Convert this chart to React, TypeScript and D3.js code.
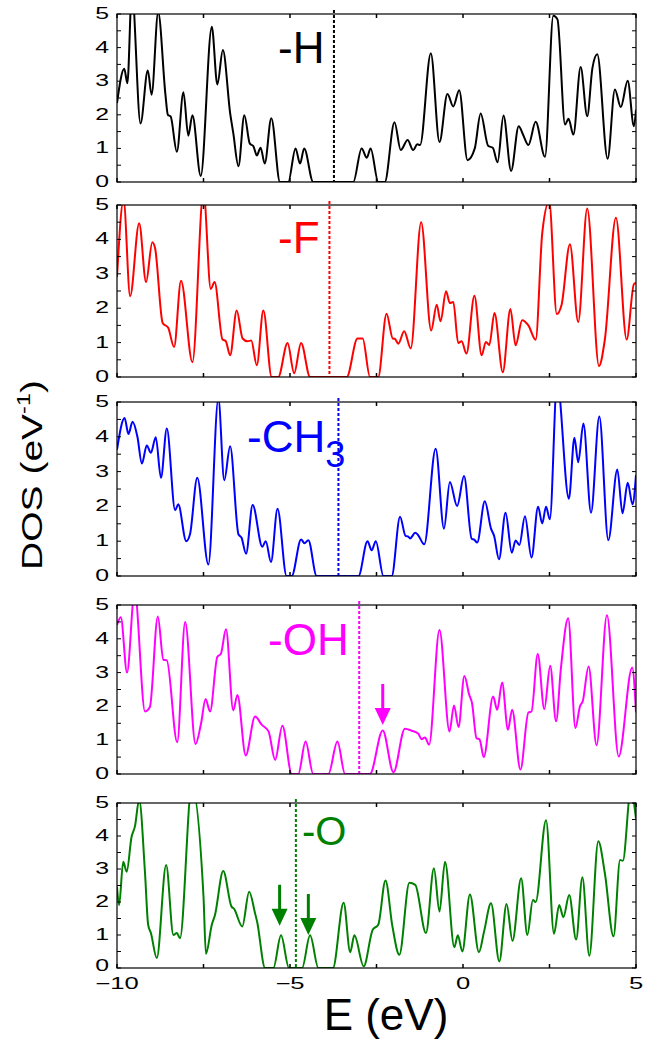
import React from 'react';
import * as d3 from 'd3';

type Pt = [number, number];

// DOS curves, read as peaks/valleys [E (eV), DOS]
const hData: Pt[] = [[-10.0,2.35],[-9.79,3.37],[-9.70,2.94],[-9.57,5.7],[-9.32,1.74],[-9.11,3.32],[-9.0,2.6],[-8.81,5.05],[-8.6,2.6],[-8.53,2.0],[-8.45,1.95],[-8.27,0.9],[-8.08,2.67],[-7.94,1.38],[-7.82,1.99],[-7.58,0.18],[-7.26,4.62],[-7.10,2.9],[-6.94,3.93],[-6.73,2.05],[-6.64,1.46],[-6.49,0.47],[-6.32,1.99],[-6.16,1.14],[-6.06,1.07],[-5.96,0.79],[-5.85,1.02],[-5.73,0.55],[-5.54,1.9],[-5.29,0],[-5.05,0],[-4.84,1.0],[-4.71,0.55],[-4.59,1.0],[-4.33,0],[-3.17,0],[-2.93,1.0],[-2.78,0.72],[-2.67,1.0],[-2.45,0],[-2.26,0],[-1.98,1.78],[-1.80,0.95],[-1.60,1.25],[-1.44,0.95],[-1.32,1.12],[-1.24,1.1],[-0.93,3.83],[-0.68,1.19],[-0.45,2.62],[-0.28,2.25],[-0.11,2.73],[0.13,0.65],[0.34,1.0],[0.51,2.04],[0.73,1.07],[0.86,1.02],[1.0,0.59],[1.17,1.98],[1.39,0.33],[1.61,1.66],[1.74,1.4],[1.89,1.1],[2.10,1.79],[2.37,0.75],[2.61,4.95],[2.73,4.84],[2.95,1.71],[3.05,1.88],[3.19,1.41],[3.40,3.42],[3.59,1.96],[3.74,3.39],[3.88,3.8],[4.18,0.69],[4.39,2.75],[4.56,2.23],[4.76,3.01],[4.94,1.66],[5.0,2.15]];

const fData: Pt[] = [[-10.0,2.9],[-9.81,5.15],[-9.62,2.35],[-9.36,4.47],[-9.16,2.76],[-8.98,3.92],[-8.9,3.75],[-8.68,1.57],[-8.52,1.43],[-8.35,0.87],[-8.15,2.8],[-7.82,0.43],[-7.5,5.4],[-7.29,2.56],[-7.18,2.76],[-6.95,1.09],[-6.86,1.05],[-6.73,0.63],[-6.54,1.93],[-6.37,1.12],[-6.23,1.04],[-6.12,1.06],[-5.96,0.34],[-5.77,1.93],[-5.53,0],[-5.34,0],[-5.07,0.99],[-4.88,0.11],[-4.68,0.99],[-4.42,0],[-3.36,0],[-3.05,1.12],[-2.9,1.12],[-2.69,0],[-2.45,0],[-2.21,1.84],[-2.03,1.12],[-1.97,1.11],[-1.87,0.97],[-1.70,1.33],[-1.51,0.83],[-1.21,4.5],[-0.92,1.35],[-0.76,2.1],[-0.65,1.62],[-0.49,2.49],[-0.38,2.15],[-0.28,2.18],[-0.14,0.99],[-0.04,1.04],[0.10,0.68],[0.33,2.36],[0.54,0.63],[0.66,1.02],[0.76,0.93],[0.91,1.86],[1.15,0.14],[1.37,1.98],[1.52,0.92],[1.71,1.65],[1.89,1.5],[2.10,1.08],[2.29,4.18],[2.49,5.1],[2.71,1.83],[2.85,2.1],[3.09,3.86],[3.33,1.6],[3.59,4.9],[3.93,0.32],[4.10,1.09],[4.42,4.63],[4.73,1.09],[4.94,2.7],[5.0,2.73]];

const ch3Data: Pt[] = [[-10.0,3.63],[-9.78,4.54],[-9.67,4.08],[-9.55,4.43],[-9.41,4.0],[-9.28,3.23],[-9.14,3.75],[-9.02,3.54],[-8.88,3.99],[-8.73,2.82],[-8.56,4.24],[-8.32,1.89],[-8.23,2.06],[-8.0,1.0],[-7.89,1.2],[-7.68,2.82],[-7.36,0.33],[-7.07,5.1],[-6.90,2.75],[-6.73,3.73],[-6.49,1.2],[-6.40,1.1],[-6.27,0.64],[-6.08,2.04],[-5.80,0.84],[-5.70,1.0],[-5.55,0.4],[-5.36,1.93],[-5.10,0],[-4.95,0],[-4.68,1.05],[-4.58,0.94],[-4.47,1.03],[-4.23,0],[-3.02,0],[-2.76,1.0],[-2.64,0.74],[-2.52,1.0],[-2.30,0],[-2.06,0],[-1.82,1.7],[-1.66,1.15],[-1.58,1.13],[-1.53,1.08],[-1.38,1.24],[-1.3,1.18],[-1.12,0.91],[-0.79,3.66],[-0.55,1.36],[-0.38,2.7],[-0.17,2.01],[0.03,2.87],[0.25,1.07],[0.33,1.04],[0.41,0.96],[0.63,2.15],[0.81,1.36],[0.9,1.15],[1.04,0.48],[1.23,1.82],[1.41,0.67],[1.52,1.02],[1.63,0.89],[1.79,1.72],[1.98,0.53],[2.17,1.99],[2.29,1.51],[2.40,1.99],[2.51,1.63],[2.72,5.6],[3.06,2.22],[3.22,3.97],[3.33,3.27],[3.48,4.38],[3.70,1.82],[3.94,4.58],[4.20,1.03],[4.46,3.06],[4.61,1.8],[4.76,2.68],[4.90,2.06],[5.0,2.9]];

const ohData: Pt[] = [[-10.0,4.41],[-9.89,4.64],[-9.71,3.0],[-9.49,5.4],[-9.19,1.85],[-9.05,1.98],[-8.82,4.66],[-8.66,3.38],[-8.56,3.36],[-8.26,0.94],[-8.03,4.5],[-7.73,0.89],[-7.57,1.5],[-7.44,2.22],[-7.31,1.85],[-7.10,3.47],[-7.0,3.55],[-6.85,4.28],[-6.64,1.88],[-6.52,2.34],[-6.28,0.55],[-6.01,1.7],[-5.82,1.46],[-5.62,1.26],[-5.43,0.42],[-5.22,1.43],[-4.95,0],[-4.76,0],[-4.55,0.96],[-4.33,0],[-3.89,0],[-3.63,0.96],[-3.41,0],[-2.69,0],[-2.32,1.29],[-2.01,0.05],[-1.68,1.34],[-1.48,1.28],[-1.29,1.19],[-1.20,1.03],[-1.10,1.08],[-0.98,0.87],[-0.68,4.26],[-0.39,1.26],[-0.26,2.03],[-0.13,1.39],[0.04,2.9],[0.18,2.34],[0.26,2.1],[0.39,1.06],[0.48,1.02],[0.60,0.5],[0.87,2.29],[0.99,1.9],[1.13,2.71],[1.30,1.31],[1.42,1.9],[1.66,0.13],[1.89,1.82],[1.98,1.85],[2.16,3.55],[2.35,1.92],[2.52,3.2],[2.69,1.56],[2.83,3.13],[3.04,4.61],[3.25,1.36],[3.38,2.0],[3.46,2.15],[3.63,3.18],[3.86,0.85],[4.16,4.7],[4.5,0.52],[4.89,3.15],[5.0,1.82]];

const oData: Pt[] = [[-10.0,2.46],[-9.94,1.91],[-9.82,3.22],[-9.72,2.92],[-9.58,3.97],[-9.48,4.3],[-9.36,5.1],[-9.19,2.87],[-9.1,1.31],[-9.02,1.06],[-8.85,0.3],[-8.58,3.12],[-8.37,1.0],[-8.27,1.06],[-8.18,0.9],[-7.84,5.5],[-7.5,2.16],[-7.43,0.43],[-7.26,1.31],[-7.17,1.6],[-6.93,2.94],[-6.69,1.86],[-6.62,1.8],[-6.38,1.26],[-6.18,2.31],[-6.01,1.66],[-5.95,1.4],[-5.72,0],[-5.48,0],[-5.26,0.99],[-5.03,0],[-4.65,0],[-4.42,0.99],[-4.18,0],[-3.76,0],[-3.45,1.98],[-3.26,0.48],[-3.14,0.99],[-2.87,0.05],[-2.61,1.16],[-2.45,1.31],[-2.24,2.65],[-2.04,1.26],[-1.84,0.4],[-1.55,2.58],[-1.38,2.52],[-1.07,1.06],[-0.84,3.02],[-0.68,1.71],[-0.52,3.22],[-0.25,0.63],[-0.15,0.99],[-0.02,0.5],[0.20,2.23],[0.46,0.48],[0.61,1.11],[0.81,1.96],[1.05,0.2],[1.26,1.94],[1.43,0.82],[1.68,2.72],[1.86,1.0],[2.02,2.06],[2.1,2.0],[2.40,4.48],[2.63,1.04],[2.78,1.91],[2.90,1.54],[3.07,2.21],[3.27,0.86],[3.45,2.75],[3.65,0.37],[3.91,3.84],[4.1,2.87],[4.35,0.96],[4.54,3.27],[4.62,3.25],[4.85,5.4],[5.0,4.53]];

// Fermi levels (eV)
const fermiLevels = [-3.73, -3.86, -3.60, -3.0, -4.83];
// arrow tips [E, DOS]
const ohArrows: Pt[] = [[-2.32, 1.45]];
const oArrows: Pt[] = [[-5.3, 1.28], [-4.47, 1.0]];

const xTicks = [-10, -7.5, -5, -2.5, 0, 2.5, 5];
const xTickLabels = [-10, -5, 0, 5];
const yTicks = [0, 0.5, 1, 1.5, 2, 2.5, 3, 3.5, 4, 4.5, 5];
const yTickLabels = [0, 1, 2, 3, 4, 5];

const panels = [
  {id: 'h', data: hData, color: '#000000', top: 14, bottom: 182, label: 'H', sub: '', lx: 278, ly: 63, fs: 44, arrows: [] as Pt[]},
  {id: 'f', data: fData, color: '#ff0000', top: 205, bottom: 377, label: 'F', sub: '', lx: 278, ly: 253, fs: 44, arrows: [] as Pt[]},
  {id: 'ch3', data: ch3Data, color: '#0000ff', top: 402, bottom: 576, label: 'CH', sub: '3', lx: 247, ly: 452, fs: 44, arrows: [] as Pt[]},
  {id: 'oh', data: ohData, color: '#ff00ff', top: 605, bottom: 774, label: 'OH', sub: '', lx: 268, ly: 655, fs: 44, arrows: ohArrows},
  {id: 'o', data: oData, color: '#008000', top: 803, bottom: 968, label: 'O', sub: '', lx: 302, ly: 845, fs: 40, arrows: oArrows},
];

const App: React.FC = () => {
  const width = 646;
  const height = 1040;
  const left = 117;
  const right = 636;
  const font = 'Liberation Sans, Arial, Helvetica, sans-serif';

  const xScale = d3.scaleLinear().domain([-10, 5]).range([left, right]);

  return (
    <div style={{position: 'absolute', left: 0, top: 0}}>
      <svg width={width} height={height} style={{background: '#fff', display: 'block'}}>
        {panels.map((p, pi) => {
          const yScale = d3.scaleLinear().domain([0, 5]).range([p.bottom, p.top]);
          const line = d3.line<Pt>()
            .x(d => xScale(d[0]))
            .y(d => yScale(d[1]))
            .curve(d3.curveMonotoneX);
          const fx = xScale(fermiLevels[pi]);
          const isLast = pi === panels.length - 1;
          return (
            <g key={p.id}>
              <defs>
                <clipPath id={`clip-${p.id}`}>
                  <rect x={left} y={p.top} width={right - left} height={p.bottom - p.top}/>
                </clipPath>
              </defs>
              {/* fermi level */}
              <line x1={fx} x2={fx} y1={p.top - 4} y2={p.bottom} stroke={p.color} strokeWidth={2} strokeDasharray="3 2"/>
              <path d={line(p.data) || ''} fill="none" stroke={p.color} strokeWidth={2} clipPath={`url(#clip-${p.id})`} strokeLinejoin="round"/>
              {/* frame */}
              <rect x={left} y={p.top} width={right - left} height={p.bottom - p.top} fill="none" stroke="#000" strokeWidth={1.2}/>
              {xTicks.map(t => (
                <g key={`xt${t}`}>
                  <line x1={xScale(t)} x2={xScale(t)} y1={p.bottom} y2={p.bottom - 4} stroke="#000" strokeWidth={1.5}/>
                  <line x1={xScale(t)} x2={xScale(t)} y1={p.top} y2={p.top + 4} stroke="#000" strokeWidth={1.5}/>
                </g>
              ))}
              {yTicks.map(t => (
                <g key={`yt${t}`}>
                  <line x1={left} x2={left + 4} y1={yScale(t)} y2={yScale(t)} stroke="#000" strokeWidth={1}/>
                  <line x1={right} x2={right - 4} y1={yScale(t)} y2={yScale(t)} stroke="#000" strokeWidth={1}/>
                </g>
              ))}
              {yTickLabels.map(t => (
                <text key={`yl${t}`} transform={`translate(109, ${yScale(t) + (isLast && t === 0 ? 3 : 5)}) scale(1.55, 1)`}
                  textAnchor="end" fontFamily={font} fontSize={16} fill="#000">{t}</text>
              ))}
              {isLast && xTickLabels.map(t => (
                <text key={`xl${t}`} transform={`translate(${xScale(t)}, ${p.bottom + 21}) scale(1.6, 1)`}
                  textAnchor="middle" fontFamily={font} fontSize={16} fill="#000">{t < 0 ? `\u2212${Math.abs(t)}` : t}</text>
              ))}
              <text x={p.lx} y={p.ly} fontFamily={font} fontSize={p.fs} fill={p.color}>
                -{p.label}
                {p.sub && <tspan fontSize={36} dy={15}>{p.sub}</tspan>}
              </text>
              {p.arrows.map((a, ai) => {
                const ax = xScale(a[0]);
                const ay = yScale(a[1]);
                return (
                  <g key={`ar${ai}`}>
                    <line x1={ax} x2={ax} y1={ay - 41} y2={ay - 12} stroke={p.color} strokeWidth={3}/>
                    <path d={`M${ax - 8},${ay - 17} L${ax + 8},${ay - 17} L${ax},${ay} Z`} fill={p.color}/>
                  </g>
                );
              })}
            </g>
          );
        })}
        <text transform="translate(42, 475) rotate(-90) scale(1.3, 1)" textAnchor="middle" fontFamily={font} fontSize={30} fill="#000">
          DOS (eV<tspan fontSize={18} dy={-12}>-1</tspan><tspan dy={12}>)</tspan>
        </text>
        <text x={386} y={1030} textAnchor="middle" fontFamily={font} fontSize={44} fill="#000">E (eV)</text>
      </svg>
    </div>
  );
};

export default App;
